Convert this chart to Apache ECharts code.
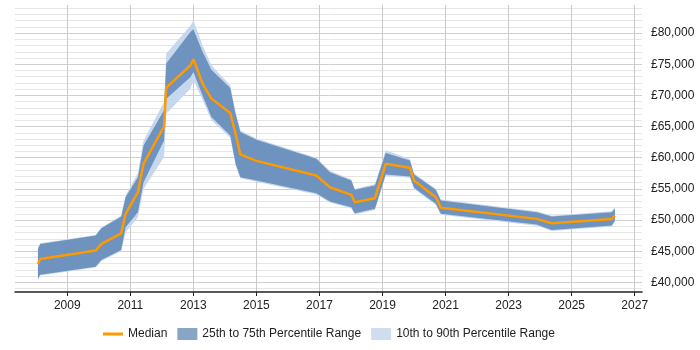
<!DOCTYPE html>
<html>
<head>
<meta charset="utf-8">
<script src="https://cdn.jsdelivr.net/npm/echarts@6/dist/echarts.min.js"></script>
<style>
html,body{margin:0;padding:0;background:#fff;}
#chart{width:700px;height:350px;}
</style>
</head>
<body>
<div id="chart"></div>
<script>
// Decimal-year positions of the data points
var dates = [2008.07, 2008.14, 2009.90, 2010.08, 2010.71, 2010.85, 2011.24, 2011.42, 2012.07, 2012.14,
  2012.91, 2013.00, 2013.29, 2013.57, 2014.17, 2014.34, 2014.49, 2015.00, 2016.90, 2017.33,
  2018.01, 2018.12, 2018.76, 2019.10, 2019.87, 2020.00, 2020.69, 2020.85, 2023.89, 2024.37,
  2026.27, 2026.37];

var median = [42960, 43760, 45100, 46170, 47880, 51000, 54470, 59030, 65030, 71250,
  74840, 75800, 71900, 69480, 67170, 63800, 60530, 59500, 57150, 55270,
  54050, 52860, 53500, 59030, 58390, 56350, 53670, 51960, 50190, 49490,
  50190, 50720];

var p25 = [40550, 41240, 42520, 43600, 45210, 48840, 51250, 56080, 62780, 69480,
  72960, 73760, 70000, 66530, 63580, 59030, 56880, 56350, 54310, 52970,
  52060, 51090, 51800, 57320, 57000, 55180, 52600, 51000, 49280, 48420,
  49120, 49920];

var p75 = [45370, 46170, 47510, 48680, 50560, 53670, 56880, 61980, 67600, 75110,
  80200, 80600, 77000, 74100, 71200, 67000, 64120, 62890, 59840, 57690,
  56350, 54850, 55550, 60740, 59570, 57320, 54850, 53130, 51250, 50560,
  51250, 51800];

var p10 = [40400, 41100, 42400, 43450, 45000, 48000, 50450, 55000, 60100, 67070,
  71090, 72430, 69300, 66000, 63200, 58700, 56700, 56150, 54100, 52800,
  51850, 50900, 51600, 57100, 56800, 55000, 52400, 50850, 49100, 48250,
  48950, 49700];

var p90 = [45500, 46300, 47600, 48800, 50700, 54000, 57500, 62780, 68940, 76720,
  81200, 82070, 78000, 74840, 71620, 67300, 64400, 63100, 60000, 57900,
  56500, 55000, 55800, 61200, 59800, 57500, 55000, 53300, 51400, 50700,
  51400, 52100];

var xTickYears = [2009, 2011, 2013, 2015, 2017, 2019, 2021, 2023, 2025, 2027];
var yLabelValues = [40000, 45000, 50000, 55000, 60000, 65000, 70000, 75000, 80000];
var yGridValues = [];
for (var v = 39000; v <= 84000; v += 1000) yGridValues.push(v);

var NAME_MED = 'Median';
var NAME_IQR = '25th to 75th Percentile Range';
var NAME_DEC = '10th to 90th Percentile Range';

var X_MIN = 2007.342, X_MAX = 2027.231;

// decimal year -> UTC timestamp
function ts(y) {
  var yr = Math.floor(y);
  var a = Date.UTC(yr, 0, 1), b = Date.UTC(yr + 1, 0, 1);
  return a + (y - yr) * (b - a);
}
function pairs(ys) { return dates.map(function (d, i) { return [ts(d), ys[i]]; }); }
function diffPairs(hi, lo) { return dates.map(function (d, i) { return [ts(d), hi[i] - lo[i]]; }); }

var FONT = 'Liberation Sans, Arial, sans-serif';

var chart = echarts.init(document.getElementById('chart'), null, {renderer: 'canvas'});
chart.setOption({
  animation: false,
  textStyle: {fontFamily: FONT},
  grid: {left: 15, right: 58, top: 5, bottom: 58, containLabel: false},
  xAxis: [
    {
      // data axis (time), hidden
      type: 'time',
      min: ts(X_MIN),
      max: ts(X_MAX),
      show: false,
      splitLine: {show: false}
    },
    {
      // display axis in decimal years
      type: 'value',
      min: X_MIN,
      max: X_MAX,
      position: 'bottom',
      axisLine: {show: true, onZero: false, lineStyle: {color: '#222', width: 1.5}},
      axisTick: {show: true, length: 4, customValues: xTickYears, lineStyle: {color: '#222'}},
      axisLabel: {customValues: xTickYears, margin: 8, fontSize: 12, color: '#222', fontFamily: FONT,
        formatter: function (v) { return String(v); }},
      splitLine: {show: true, lineStyle: {color: '#cacaca', width: 1}}
    }
  ],
  yAxis: {
    type: 'value',
    position: 'right',
    min: 38460,
    max: 84500,
    axisLine: {show: false},
    axisTick: {show: false, customValues: yGridValues},
    axisLabel: {customValues: yLabelValues, margin: 9, fontSize: 12, color: '#222', fontFamily: FONT,
      formatter: function (v) { return '£' + String(v).replace(/\B(?=(\d{3})+(?!\d))/g, ','); }},
    splitLine: {show: true, lineStyle: {color: ['#e6e6e6', '#cfcfcf', '#e6e6e6', '#e6e6e6', '#e6e6e6'], width: 1}}
  },
  legend: {
    left: 98,
    top: 323,
    itemWidth: 20,
    itemHeight: 12,
    itemGap: 10,
    textStyle: {fontSize: 12, color: '#222', fontFamily: FONT},
    data: [
      {name: NAME_MED, icon: 'path://M0,0 L20,0 L20,3 L0,3 Z', itemStyle: {color: '#ff9900'}},
      {name: NAME_IQR, icon: 'rect', itemStyle: {color: '#88a5c6'}},
      {name: NAME_DEC, icon: 'rect', itemStyle: {color: '#cfdeef'}}
    ]
  },
  series: [
    {name: 'p10base', type: 'line', xAxisIndex: 0, stack: 'dec', data: pairs(p10), symbol: 'none',
      lineStyle: {opacity: 0}, silent: true, z: 1},
    {name: NAME_DEC, type: 'line', xAxisIndex: 0, stack: 'dec', data: diffPairs(p90, p10), symbol: 'none',
      lineStyle: {opacity: 0}, itemStyle: {color: '#c6d8ee'}, areaStyle: {color: '#c6d8ee', opacity: 1}, z: 1},
    {name: 'p25base', type: 'line', xAxisIndex: 0, stack: 'iqr', data: pairs(p25), symbol: 'none',
      lineStyle: {opacity: 0}, silent: true, z: 2},
    {name: NAME_IQR, type: 'line', xAxisIndex: 0, stack: 'iqr', data: diffPairs(p75, p25), symbol: 'none',
      lineStyle: {opacity: 0}, itemStyle: {color: '#6e93be'}, areaStyle: {color: '#6e93be', opacity: 1}, z: 2},
    {name: NAME_MED, type: 'line', xAxisIndex: 0, data: pairs(median), symbol: 'none',
      itemStyle: {color: '#ff9900'}, lineStyle: {color: '#ff9900', width: 2.5}, z: 3}
  ]
});
</script>
</body>
</html>
